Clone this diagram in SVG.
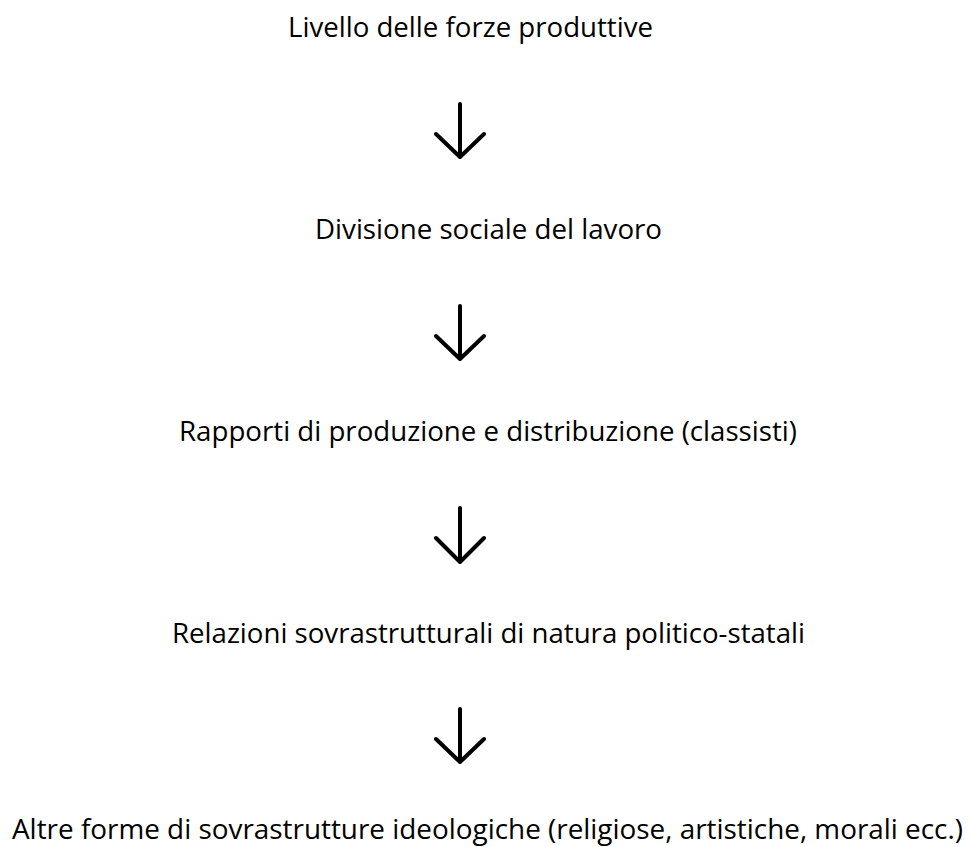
<svg xmlns="http://www.w3.org/2000/svg" width="970" height="847" viewBox="0 0 970 847">
<style>
.lbl{font-family:"Open Sans","Noto Sans","Liberation Sans",sans-serif;font-size:27px;fill:#000;}
.arr{fill:none;stroke:#000;stroke-width:4;stroke-linecap:round;stroke-linejoin:round;}
</style>
<rect width="970" height="847" fill="#fff"/>
<g id="n1"><text class="lbl" x="288" y="37" textLength="365" lengthAdjust="spacingAndGlyphs">Livello delle forze produttive</text></g>
<g id="n2"><text class="lbl" x="315" y="239" textLength="347" lengthAdjust="spacingAndGlyphs">Divisione sociale del lavoro</text></g>
<g id="n3"><text class="lbl" x="179" y="441" textLength="618" lengthAdjust="spacingAndGlyphs">Rapporti di produzione e distribuzione (classisti)</text></g>
<g id="n4"><text class="lbl" x="172" y="643" textLength="633" lengthAdjust="spacingAndGlyphs">Relazioni sovrastrutturali di natura politico-statali</text></g>
<g id="n5"><text class="lbl" x="12" y="839" textLength="951" lengthAdjust="spacingAndGlyphs">Altre forme di sovrastrutture ideologiche (religiose, artistiche, morali ecc.)</text></g>
<g id="connectors">
<g id="e1"><path class="arr" d="M460 104V157M436 134L460 157L484 134"/></g>
<g id="e2"><path class="arr" d="M460 306V359M436 336L460 359L484 336"/></g>
<g id="e3"><path class="arr" d="M460 508V562M436 538L460 562L484 538"/></g>
<g id="e4"><path class="arr" d="M460 709V762M436 739L460 762L484 739"/></g>
</g>
</svg>
